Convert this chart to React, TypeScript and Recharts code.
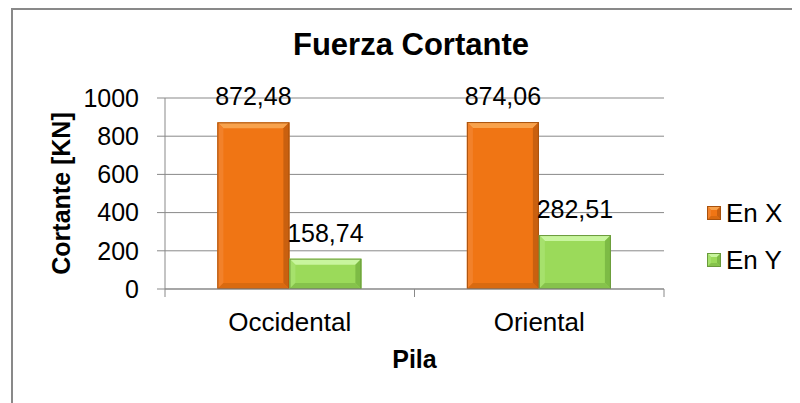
import React from 'react';
import { BarChart, Bar, XAxis, YAxis, CartesianGrid, LabelList, Legend } from 'recharts';

const categories = ['Occidental', 'Oriental'];
const enX = [872.48, 874.06];
const enY = [158.74, 282.51];
const yTicks = [0, 200, 400, 600, 800, 1000];
const seriesNames = ['En X', 'En Y'];

const data = categories.map((c, i) => ({ pila: c, enX: enX[i], enY: enY[i] }));

const FONT = '"Liberation Sans", Arial, sans-serif';
const AXIS = '#898989';

type Pal = { base: string; top: string; left: string; right: string; bottom: string; line: string };
const ORANGE: Pal = { base: '#F07514', top: '#F8A24C', left: '#F2812A', right: '#C9600F', bottom: '#D96A10', line: '#A9520D' };
const GREEN: Pal = { base: '#9BDA5A', top: '#C8F59E', left: '#A6E16C', right: '#7DBB45', bottom: '#86C24C', line: '#6A9A3C' };

function bevelShapes(x: number, y: number, w: number, h: number, p: Pal, b: number) {
  const bb = Math.max(0, Math.min(b, w / 2, h / 2));
  return (
    <g>
      <rect x={x} y={y} width={w} height={h} fill={p.base} />
      <polygon points={`${x},${y} ${x + w},${y} ${x + w - bb},${y + bb} ${x + bb},${y + bb}`} fill={p.top} />
      <polygon points={`${x},${y} ${x + bb},${y + bb} ${x + bb},${y + h - bb} ${x},${y + h}`} fill={p.left} />
      <polygon points={`${x + w},${y} ${x + w},${y + h} ${x + w - bb},${y + h - bb} ${x + w - bb},${y + bb}`} fill={p.right} />
      <polygon points={`${x},${y + h} ${x + bb},${y + h - bb} ${x + w - bb},${y + h - bb} ${x + w},${y + h}`} fill={p.bottom} />
      <rect x={x + 0.5} y={y + 0.5} width={Math.max(0, w - 1)} height={Math.max(0, h - 1)} fill="none" stroke={p.line} strokeWidth={1} />
    </g>
  );
}

const makeShape = (p: Pal) => (props: any) => {
  const { x, y, width, height } = props;
  if (!width || !height) return <g />;
  return bevelShapes(x, y, width, height, p, 6);
};

const fmt = (v: any) => Number(v).toFixed(2).replace('.', ',');

const XTick = (props: any) => {
  const { x, y, payload } = props;
  const off = payload && typeof payload.offset === 'number' ? payload.offset : 0;
  const axisY = y - 24;
  return (
    <g>
      {off > 0 && (
        <>
          <line x1={x - off} x2={x - off} y1={axisY} y2={axisY + 8} stroke={AXIS} strokeWidth={1} />
          <line x1={x + off} x2={x + off} y1={axisY} y2={axisY + 8} stroke={AXIS} strokeWidth={1} />
        </>
      )}
      <text x={x} y={y} dy="0.71em" textAnchor="middle" fill="#000" fontSize={26} fontFamily={FONT}>
        {payload.value}
      </text>
    </g>
  );
};

const LegendContent = () => (
  <div style={{ fontFamily: FONT, fontSize: 26, color: '#000' }}>
    {[ORANGE, GREEN].map((p, i) => (
      <div key={i} style={{ display: 'flex', alignItems: 'center', height: 47 }}>
        <svg width={14} height={14} style={{ marginRight: 5, display: 'block' }}>
          {bevelShapes(0, 0, 14, 14, p, 4)}
        </svg>
        <span style={{ lineHeight: '30px', whiteSpace: 'nowrap' }}>{seriesNames[i]}</span>
      </div>
    ))}
  </div>
);

export default function App() {
  return (
    <div style={{ position: 'relative', width: 792, height: 395, overflow: 'hidden', background: '#fff', fontFamily: FONT }}>
      <div style={{ position: 'absolute', left: 3, top: 0, width: 1000, height: 1000, border: `2px solid ${AXIS}`, boxSizing: 'border-box' }} />
      <div style={{ position: 'absolute', left: 0, top: 19, width: 806, height: 36, lineHeight: '36px', textAlign: 'center', fontSize: 31, fontWeight: 'bold', color: '#000' }}>
        Fuerza Cortante
      </div>
      <div style={{ position: 'absolute', left: 0, top: 0 }}>
        <BarChart
          width={792}
          height={395}
          data={data}
          margin={{ top: 90, right: 136, left: 0, bottom: 0 }}
          barCategoryGap="21%"
          barGap={0}
        >
          <CartesianGrid vertical={false} stroke={AXIS} strokeWidth={1} />
          <XAxis
            dataKey="pila"
            height={114}
            axisLine={{ stroke: AXIS }}
            tickLine={{ stroke: 'none' }}
            tickSize={8}
            tickMargin={16}
            tick={<XTick />}
            interval={0}
            label={{ value: 'Pila', position: 'insideBottom', offset: 35, fontSize: 25, fontWeight: 'bold', fill: '#000', fontFamily: FONT }}
          />
          <YAxis
            width={157}
            domain={[0, 1000]}
            ticks={yTicks}
            interval={0}
            axisLine={{ stroke: AXIS }}
            tickLine={{ stroke: AXIS }}
            tickSize={8}
            tickMargin={18}
            tick={{ fontSize: 25, fill: '#000', fontFamily: FONT }}
            label={{
              content: (lp: any) => {
                const vb = lp.viewBox || {};
                const cx = (vb.x || 0) + 53;
                const cy = (vb.y || 0) + (vb.height || 0) / 2;
                return (
                  <text x={cx} y={cy} transform={`rotate(-90 ${cx} ${cy})`} textAnchor="middle" dominantBaseline="central" fontSize={25} fontWeight="bold" fill="#000" fontFamily={FONT}>
                    Cortante [KN]
                  </text>
                );
              },
            }}
          />
          <Legend
            layout="horizontal"
            verticalAlign="middle"
            align="center"
            content={<LegendContent />}
            wrapperStyle={{ left: 699, top: 181, width: 100, height: 94 }}
          />
          <Bar dataKey="enX" name={seriesNames[0]} fill={ORANGE.base} shape={makeShape(ORANGE)} isAnimationActive={false}>
            <LabelList dataKey="enX" position="top" offset={17} formatter={fmt} fontSize={25} fill="#000" fontFamily={FONT} />
          </Bar>
          <Bar dataKey="enY" name={seriesNames[1]} fill={GREEN.base} shape={makeShape(GREEN)} isAnimationActive={false}>
            <LabelList dataKey="enY" position="top" offset={17} formatter={fmt} fontSize={25} fill="#000" fontFamily={FONT} />
          </Bar>
        </BarChart>
      </div>
    </div>
  );
}
